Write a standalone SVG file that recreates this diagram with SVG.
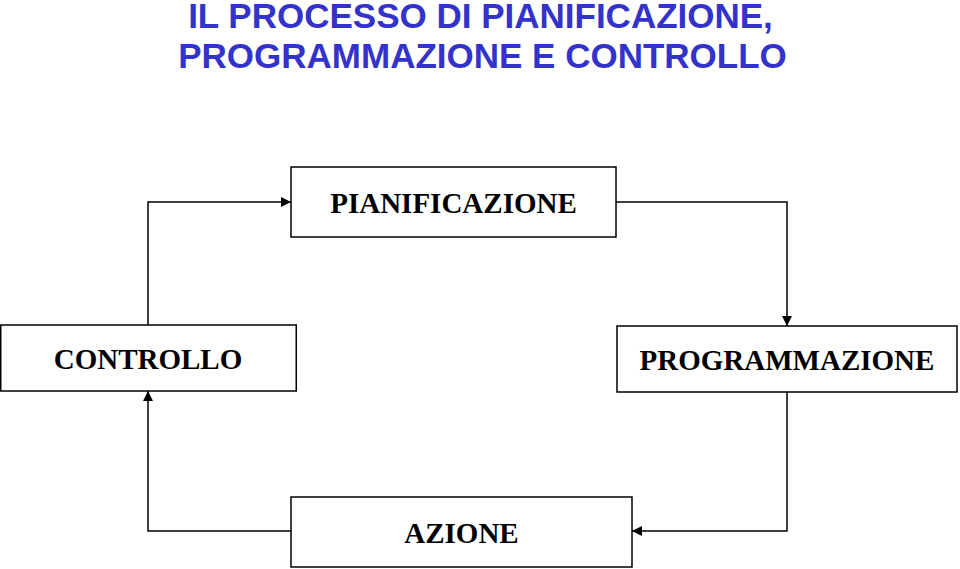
<svg xmlns="http://www.w3.org/2000/svg" width="960" height="569" viewBox="0 0 960 569">
<defs>
<marker id="arr" viewBox="0 0 10 10" refX="10" refY="5" markerWidth="11" markerHeight="10" markerUnits="userSpaceOnUse" orient="auto">
<path d="M0,0 L10,5 L0,10 z" fill="#000"/>
</marker>
<style>
.title{font-family:"Liberation Sans",Arial,sans-serif;font-weight:bold;font-size:35px;fill:#3333CC;text-anchor:middle}
.box{fill:#fff;stroke:#000;stroke-width:1.5}
.lbl{font-family:"Liberation Serif","Times New Roman",serif;font-weight:bold;font-size:29px;fill:#000;text-anchor:middle}
.conn{fill:none;stroke:#000;stroke-width:1.5;marker-end:url(#arr)}
</style>
</defs>
<rect width="960" height="569" fill="#fff"/>
<text class="title" x="480.5" y="28">IL PROCESSO DI PIANIFICAZIONE,</text>
<text class="title" x="482.5" y="68">PROGRAMMAZIONE E CONTROLLO</text>
<g id="connectors">
<path class="conn" d="M148,325 V202 H291"/>
<path class="conn" d="M616,202 H787 V326"/>
<path class="conn" d="M787,392 V531 H632"/>
<path class="conn" d="M291,531 H148 V391"/>
</g>
<g id="pianificazione">
<rect class="box" x="291" y="167" width="325" height="70"/>
<text class="lbl" x="453.5" y="213">PIANIFICAZIONE</text>
</g>
<g id="controllo">
<rect class="box" x="0.75" y="325" width="295.5" height="66"/>
<text class="lbl" x="148" y="369">CONTROLLO</text>
</g>
<g id="programmazione">
<rect class="box" x="617" y="326" width="340" height="66"/>
<text class="lbl" x="787" y="370">PROGRAMMAZIONE</text>
</g>
<g id="azione">
<rect class="box" x="291" y="497" width="341" height="70"/>
<text class="lbl" x="461.5" y="543">AZIONE</text>
</g>
</svg>
